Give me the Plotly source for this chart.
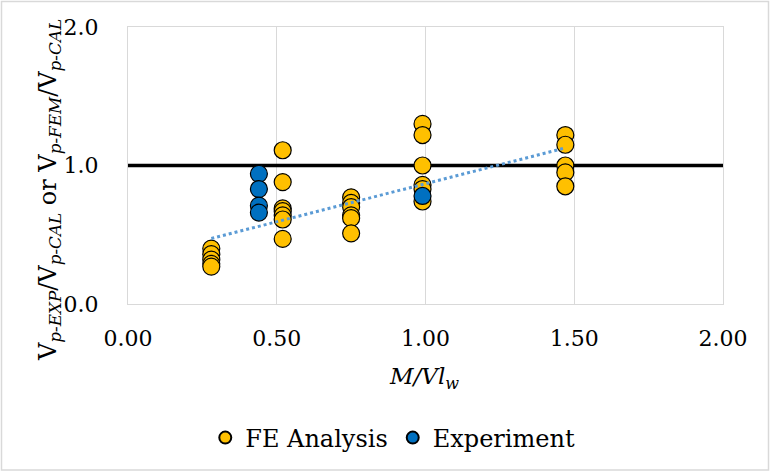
import numpy as np
import plotly.graph_objects as go

# ---- data ----
fe_x = [0.28]*5 + [0.52]*7 + [0.75]*6 + [0.99]*6 + [1.47]*5
fe_y = [0.40, 0.36, 0.32, 0.29, 0.27,
        1.11, 0.88, 0.69, 0.67, 0.64, 0.61, 0.47,
        0.77, 0.73, 0.70, 0.64, 0.62, 0.51,
        1.30, 1.22, 1.00, 0.86, 0.83, 0.74,
        1.22, 1.15, 1.00, 0.95, 0.85]
exp_x = [0.44, 0.44, 0.44, 0.44, 0.99]
exp_y = [0.94, 0.83, 0.71, 0.66, 0.78]
ref_value = 1.0
x_ticks = [0.0, 0.5, 1.0, 1.5, 2.0]
x_tick_labels = ["0.00", "0.50", "1.00", "1.50", "2.00"]
y_ticks = [0.0, 1.0, 2.0]
y_tick_labels = ["0.0", "1.0", "2.0"]

FONT = "DejaVu Serif"

# linear trendline of FE series
slope, intercept = np.polyfit(fe_x, fe_y, 1)
tx = np.array([min(fe_x), max(fe_x)])
ty = slope * tx + intercept

fig = go.Figure()
fig.add_trace(go.Scatter(x=[x_ticks[0], x_ticks[-1]], y=[ref_value, ref_value], mode="lines",
                         line=dict(color="black", width=3.5), showlegend=False, hoverinfo="skip"))
fig.add_trace(go.Scatter(x=fe_x, y=fe_y, mode="markers", name="FE Analysis",
                         marker=dict(size=17, color="#FFC000", line=dict(color="black", width=1.2))))
fig.add_trace(go.Scatter(x=exp_x, y=exp_y, mode="markers", name="Experiment",
                         marker=dict(size=17, color="#0070C0", line=dict(color="black", width=1.2))))
fig.add_trace(go.Scatter(x=tx, y=ty, mode="lines", showlegend=False,
                         line=dict(color="#5B9BD5", width=3, dash="dot")))

L, R, T, B = 128, 47, 27, 168
W, H = 770, 472
pw, ph = W - L - R, H - T - B

fig.update_layout(
    width=W, height=H,
    margin=dict(l=L, r=R, t=T, b=B),
    paper_bgcolor="white", plot_bgcolor="white",
    font=dict(family=FONT, size=22, color="black"),
    showlegend=True,
    legend=dict(orientation="h", x=0.445, xanchor="center", y=(T + ph - 438) / ph, yanchor="middle",
                font=dict(family=FONT, size=24), itemsizing="constant", traceorder="normal"),
    xaxis=dict(range=[0, 2], tickvals=x_ticks, ticktext=x_tick_labels, showgrid=True,
               gridcolor="#d9d9d9", gridwidth=1.3, zeroline=False, showline=True, linecolor="#d9d9d9",
               linewidth=1.3, mirror=True, ticks="", ticklabelstandoff=14,
               tickfont=dict(size=22, family=FONT)),
    yaxis=dict(range=[0, 2], tickvals=y_ticks, ticktext=y_tick_labels, showgrid=False,
               zeroline=False, showline=True, linecolor="#d9d9d9", linewidth=1.3, mirror=True,
               ticks="", ticklabelstandoff=24, tickfont=dict(size=22, family=FONT)),
)

fig.add_annotation(text="<i>M/Vl<sub>w</sub></i>", xref="paper", yref="paper",
                   x=(424 - L) / pw, y=(T + ph - 378) / ph, showarrow=False,
                   font=dict(family=FONT, size=23), xanchor="center", yanchor="middle")
fig.add_annotation(text="V<sub><i>p-EXP</i></sub>/V<sub><i>p-CAL</i></sub> or V<sub><i>p-FEM</i></sub>/V<sub><i>p-CAL</i></sub>",
                   xref="paper", yref="paper", x=(50 - L) / pw, y=(T + ph - 190) / ph,
                   showarrow=False, textangle=-90, font=dict(family=FONT, size=24),
                   xanchor="center", yanchor="middle")

# outer chart border
fig.add_shape(type="rect", xref="paper", yref="paper",
              x0=(1.5 - L) / pw, x1=(768.5 - L) / pw, y0=(T + ph - 470) / ph, y1=(T + ph - 1.5) / ph,
              line=dict(color="#d9d9d9", width=1.5), fillcolor="rgba(0,0,0,0)")

fig.write_html("out.html")
